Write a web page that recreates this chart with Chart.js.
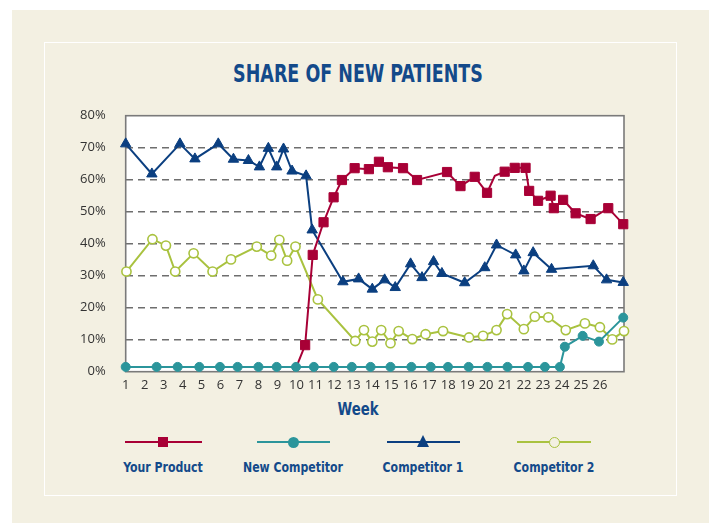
<!DOCTYPE html>
<html>
<head>
<meta charset="utf-8">
<script src="https://cdn.jsdelivr.net/npm/chart.js@4.4.1/dist/chart.umd.min.js"></script>
<style>
    body { margin: 0; background: #ffffff; width: 709px; height: 523px; overflow: hidden; position: relative; }
    .panel { position: absolute; left: 12px; top: 10px; width: 697px; height: 513px; background: #f3f0e2; }
    .frame { position: absolute; left: 44px; top: 42px; width: 631px; height: 452px; border: 1.5px solid #ffffff; }
    #statsChart { position: absolute; left: 0; top: 0; }
    .cond { font-family: "DejaVu Sans", sans-serif; font-stretch: condensed; font-weight: bold; color: #134a8a; }
    .title { position: absolute; left: 0; width: 716px; top: 60px; text-align: center; font-size: 24px; transform: scaleX(0.81); }
    .axis-title { position: absolute; left: 0; width: 716px; top: 398px; text-align: center; font-size: 18px; transform: scaleX(0.82); }
    .leg-line { position: absolute; height: 2px; top: 441px; }
    .leg-label { position: absolute; top: 459px; width: 160px; margin-left: -80px; text-align: center; font-size: 14px; transform: scaleX(0.87); }
    .mk { position: absolute; box-sizing: border-box; }
</style>
</head>
<body>
<div class="panel"></div>
<div class="frame"></div>
<div class="title cond">SHARE OF NEW PATIENTS</div>
<div class="axis-title cond">Week</div>

<div class="leg-line" style="left:125px;width:77px;background:#a80036"></div>
<div class="mk" style="left:158px;top:437px;width:10px;height:10px;background:#a80036"></div>
<div class="leg-label cond" style="left:163px">Your Product</div>

<div class="leg-line" style="left:257px;width:73px;background:#2b959b"></div>
<div class="mk" style="left:288px;top:437px;width:11px;height:11px;border-radius:50%;background:#2b959b"></div>
<div class="leg-label cond" style="left:293px">New Competitor</div>

<div class="leg-line" style="left:387px;width:73px;background:#0b3f80"></div>
<div class="mk" style="left:417px;top:435px;width:0;height:0;border-left:6px solid transparent;border-right:6px solid transparent;border-bottom:12px solid #0b3f80"></div>
<div class="leg-label cond" style="left:423px">Competitor 1</div>

<div class="leg-line" style="left:517px;width:74px;background:#a9c23f"></div>
<div class="mk" style="left:549px;top:437px;width:11px;height:11px;border-radius:50%;border:1.6px solid #a9c23f;background:#f3f0e2"></div>
<div class="leg-label cond" style="left:554px">Competitor 2</div>

<canvas id="statsChart" width="709" height="523"></canvas>

<script>
// Semaines affichées sur l'axe X
const weekTicks = [1, 2, 3, 4, 5, 6, 7, 8, 9, 10, 11, 12, 13, 14, 15, 16, 17, 18, 19, 20, 21, 22, 23, 24, 25, 26];
const shareTicks = [0, 10, 20, 30, 40, 50, 60, 70, 80];

// Your Product (le premier point et le coude à ~20.5 n'ont pas de marqueur)
const yourProductWeeks = [10.0, 10.46, 10.86, 11.43, 11.96, 12.4, 13.07, 13.82, 14.35, 14.82, 15.62, 16.36, 17.94, 18.65, 19.4, 20.05, 20.46, 20.98, 21.51, 22.08, 22.27, 22.74, 23.4, 23.57, 24.06, 24.72, 25.51, 26.44, 27.23];
const yourProductShare = [1.5, 8.3, 36.5, 46.7, 54.5, 59.9, 63.6, 63.3, 65.6, 63.9, 63.6, 59.9, 62.4, 58.0, 60.9, 55.9, 61.2, 62.5, 63.7, 63.7, 56.5, 53.4, 55.0, 51.1, 53.7, 49.5, 47.7, 51.1, 46.1];
const yourProductHidden = [0, 16];

// New Competitor
const newCompWeeks = [1, 2.63, 3.74, 4.88, 5.97, 6.9, 8.0, 8.96, 9.98, 10.92, 11.97, 12.92, 13.91, 14.96, 16.06, 17.08, 17.99, 19.08, 20.07, 21.13, 22.21, 23.1, 23.89, 24.15, 25.09, 25.95, 27.23];
const newCompShare = [1.5, 1.5, 1.5, 1.5, 1.5, 1.5, 1.5, 1.5, 1.5, 1.5, 1.5, 1.5, 1.5, 1.5, 1.5, 1.5, 1.5, 1.5, 1.5, 1.5, 1.5, 1.5, 1.5, 7.8, 11.2, 9.4, 16.9];

// Competitor 1
const comp1Weeks = [1, 2.38, 3.86, 4.65, 5.88, 6.68, 7.47, 8.05, 8.52, 8.96, 9.32, 9.77, 10.51, 10.83, 12.45, 13.28, 14.0, 14.65, 15.21, 16.02, 16.62, 17.23, 17.67, 18.87, 19.93, 20.55, 21.56, 21.99, 22.48, 23.45, 25.65, 26.35, 27.23];
const comp1Share = [71.2, 61.8, 71.2, 66.5, 71.2, 66.4, 66.0, 64.0, 69.8, 64.0, 69.6, 62.7, 61.2, 44.3, 28.1, 29.0, 25.8, 28.7, 26.3, 33.7, 29.4, 34.4, 30.7, 27.8, 32.5, 39.6, 36.5, 31.5, 37.2, 32.0, 33.1, 28.7, 27.9];

// Competitor 2
const comp2Weeks = [1.04, 2.41, 3.12, 3.61, 4.58, 5.58, 6.55, 7.91, 8.67, 9.1, 9.51, 9.95, 11.13, 13.1, 13.56, 14.0, 14.47, 14.96, 15.39, 16.11, 16.81, 17.73, 19.1, 19.84, 20.55, 21.11, 21.99, 22.57, 23.28, 24.2, 25.21, 26.0, 26.65, 27.27];
const comp2Share = [31.3, 41.4, 39.4, 31.3, 37.0, 31.3, 35.1, 39.1, 36.3, 41.2, 34.7, 39.1, 22.6, 9.6, 13.0, 9.4, 13.0, 8.9, 12.7, 10.2, 11.7, 12.7, 10.7, 11.2, 13.0, 18.0, 13.3, 17.2, 17.0, 13.0, 15.1, 13.9, 10.1, 12.7];

const toPoints = (xs, ys) => xs.map((x, i) => ({ x: x, y: ys[i] }));

const RED = '#a80036', TEAL = '#2b959b', NAVY = '#0b3f80', LIME = '#a9c23f';

// Fond blanc de la zone de tracé + cadre gris
const plotFramePlugin = {
    id: 'plotFrame',
    beforeDraw(chart) {
        const { ctx, chartArea: a } = chart;
        ctx.save();
        ctx.fillStyle = '#ffffff';
        ctx.fillRect(a.left, a.top, a.right - a.left, a.bottom - a.top);
        ctx.restore();
    },
    beforeDatasetsDraw(chart) {
        const { ctx, chartArea: a } = chart;
        ctx.save();
        ctx.strokeStyle = '#7a7a7a';
        ctx.lineWidth = 1.6;
        ctx.strokeRect(a.left, a.top, a.right - a.left, a.bottom - a.top);
        ctx.restore();
    }
};

const tickFont = { family: '"Open Sans", "Liberation Sans", sans-serif', size: 13 };

let myChart = new Chart(document.getElementById('statsChart').getContext('2d'), {
    type: 'line',
    data: {
        datasets: [
            {
                label: 'Your Product',
                data: toPoints(yourProductWeeks, yourProductShare),
                borderColor: RED, backgroundColor: RED, borderWidth: 2,
                pointStyle: 'rect',
                pointRadius: (c) => yourProductHidden.includes(c.dataIndex) ? 0 : 6.5,
                pointBorderWidth: 1,
                order: 2, clip: false
            },
            {
                label: 'New Competitor',
                data: toPoints(newCompWeeks, newCompShare),
                borderColor: TEAL, backgroundColor: TEAL, borderWidth: 2,
                pointStyle: 'circle', pointRadius: 4.5, pointBorderWidth: 1,
                order: 1, clip: false
            },
            {
                label: 'Competitor 1',
                data: toPoints(comp1Weeks, comp1Share),
                borderColor: NAVY, backgroundColor: NAVY, borderWidth: 2,
                pointStyle: 'triangle', pointRadius: 6, pointBorderWidth: 1,
                order: 3, clip: false
            },
            {
                label: 'Competitor 2',
                data: toPoints(comp2Weeks, comp2Share),
                borderColor: LIME, backgroundColor: '#ffffff', borderWidth: 2,
                pointStyle: 'circle', pointRadius: 4.6, pointBorderWidth: 1.6,
                pointBorderColor: LIME,
                order: 4, clip: false
            }
        ]
    },
    plugins: [plotFramePlugin],
    options: {
        responsive: false,
        animation: false,
        devicePixelRatio: 1,
        layout: { padding: { left: 45.7, top: 115.7, right: 85, bottom: 121.3 } },
        scales: {
            x: {
                type: 'linear', min: 1, max: 27.27,
                afterBuildTicks: (s) => { s.ticks = weekTicks.map(v => ({ value: v })); },
                afterFit: (s) => { s.height = 30; s.paddingLeft = 0; s.paddingRight = 0; },
                grid: { display: false, drawTicks: false },
                border: { display: false },
                ticks: { color: '#333333', font: tickFont, padding: 6, maxRotation: 0, autoSkip: false }
            },
            y: {
                min: 0, max: 80,
                afterBuildTicks: (s) => { s.ticks = shareTicks.map(v => ({ value: v })); },
                afterFit: (s) => { s.width = 80; s.paddingTop = 0; s.paddingBottom = 0; },
                grid: {
                    drawTicks: false, lineWidth: 1.4,
                    color: (c) => (c.tick && (c.tick.value === 0 || c.tick.value === 80)) ? 'rgba(0,0,0,0)' : '#6e6e6e'
                },
                border: { display: false, dash: [7, 5] },
                ticks: { color: '#333333', font: tickFont, padding: 20, callback: (v) => v + '%' }
            }
        },
        plugins: {
            legend: { display: false },
            tooltip: { enabled: false }
        }
    }
});
</script>
</body>
</html>
